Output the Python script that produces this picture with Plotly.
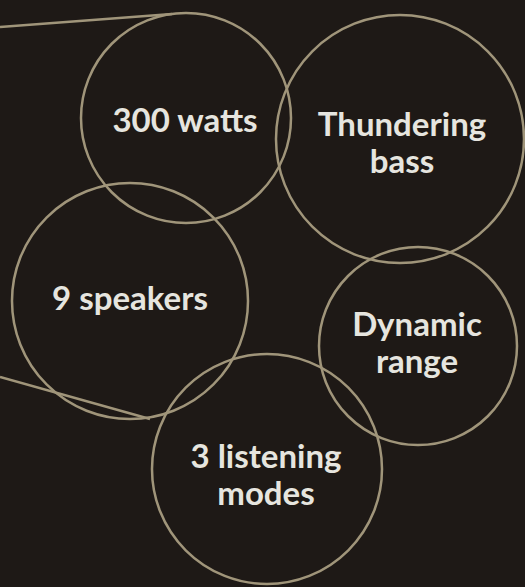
import plotly.graph_objects as go

# Feature bubbles: centre (x, y) and radius in chart units
center_x = [186, 400, 130, 418, 267]
center_y = [118, 139, 301, 346, 469]
radius = [105, 124, 118, 99, 115]

# Bubble labels, one entry per text line
label_text = ["300 watts", "Thundering", "bass", "9 speakers", "Dynamic", "range", "3 listening", "modes"]
label_x = [185, 402, 402, 130, 417, 417, 266, 266]
label_y = [124, 128, 165, 302, 328, 365, 460, 497]

# Leader lines entering from the left edge
lead_x0 = [0, 0]
lead_y0 = [27, 377]
lead_x1 = [172, 150]
lead_y1 = [14, 419]

BG = "#1e1916"
STROKE = "#a0957a"
TEXT = "#e6e5df"

fig = go.Figure()

shapes = []
for cx, cy, r in zip(center_x, center_y, radius):
    shapes.append(dict(type="circle", xref="x", yref="y",
                       x0=cx - r, x1=cx + r, y0=cy - r, y1=cy + r,
                       line=dict(color=STROKE, width=2.5)))
for x0, y0, x1, y1 in zip(lead_x0, lead_y0, lead_x1, lead_y1):
    shapes.append(dict(type="line", xref="x", yref="y",
                       x0=x0, y0=y0, x1=x1, y1=y1,
                       line=dict(color=STROKE, width=2.5)))

fig.add_trace(go.Scatter(
    x=label_x, y=label_y, mode="text", text=label_text,
    textposition="middle center",
    textfont=dict(family="Lato, Open Sans, sans-serif", size=33, color=TEXT, weight=700),
    hoverinfo="skip", showlegend=False,
))

fig.update_layout(
    width=525, height=587,
    margin=dict(l=0, r=0, t=0, b=0),
    paper_bgcolor=BG, plot_bgcolor=BG,
    shapes=shapes,
    showlegend=False,
    xaxis=dict(range=[0, 525], visible=False, fixedrange=True),
    yaxis=dict(range=[587, 0], visible=False, fixedrange=True),
)

fig.write_html(
    "out.html",
    config={"displayModeBar": False},
    post_script="document.body.style.margin='0';document.body.style.background='#1e1916';document.body.style.overflow='hidden';",
)
